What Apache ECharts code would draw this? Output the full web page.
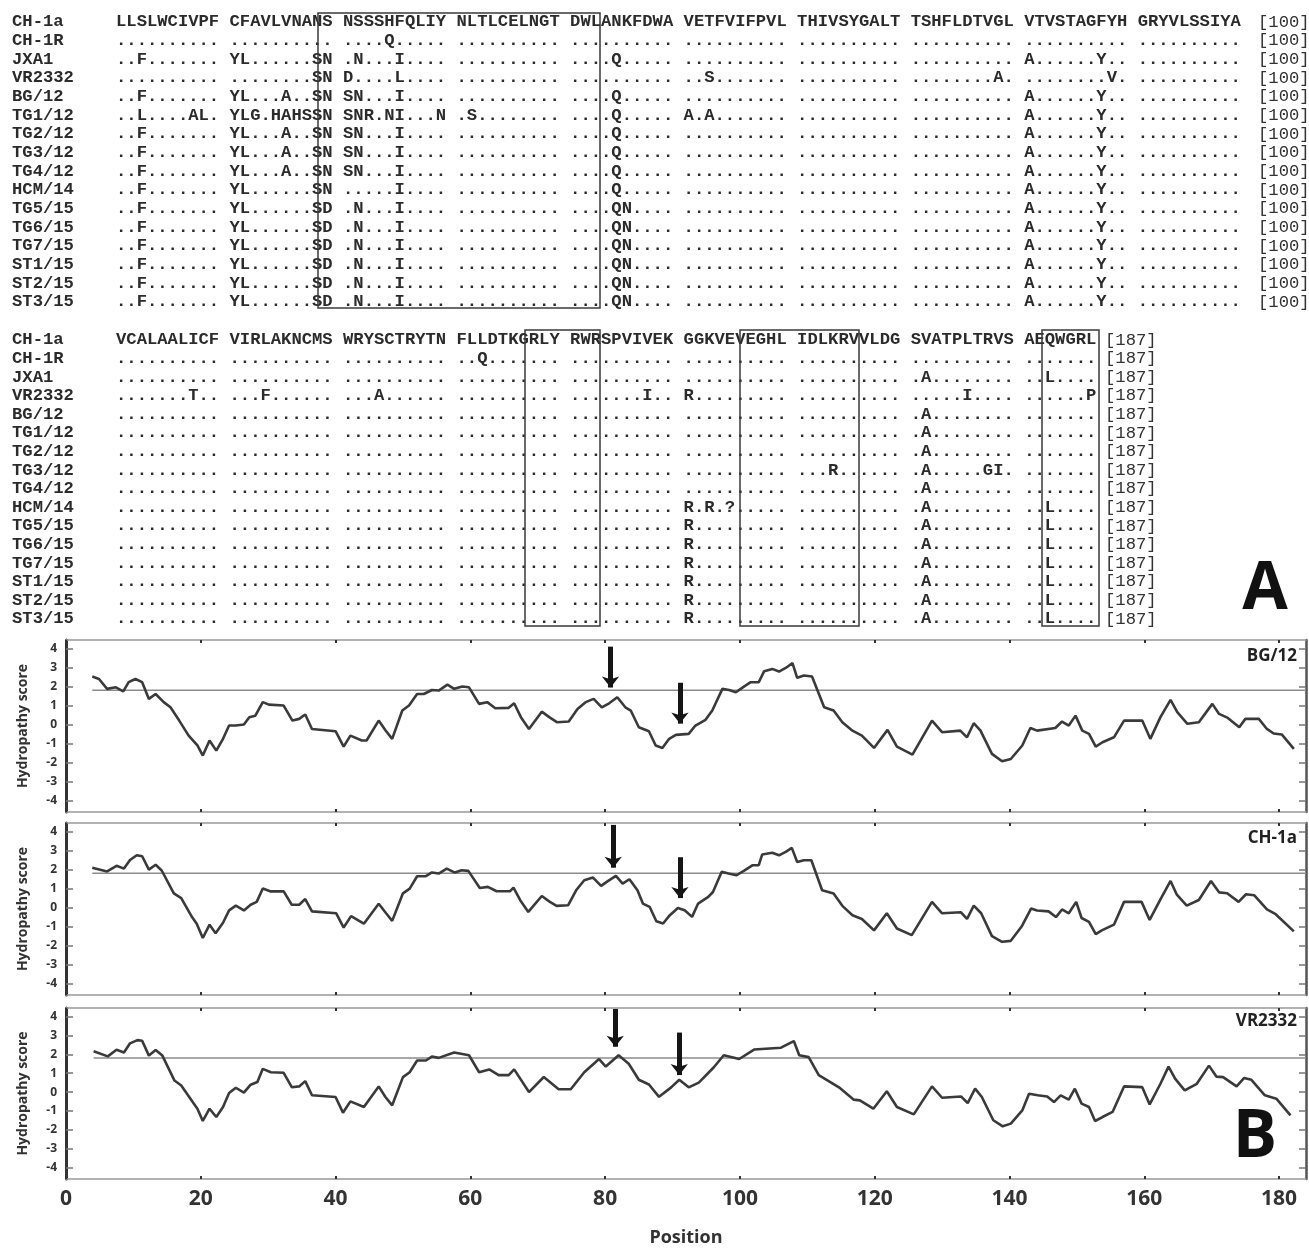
<!DOCTYPE html>
<html>
<head>
<meta charset="utf-8">
<script src="https://cdn.jsdelivr.net/npm/echarts@6/dist/echarts.min.js"></script>
<style>
  html, body { margin: 0; background: #fff; }
  #main { width: 1309px; height: 1248px; }
</style>
</head>
<body>
<div id="main"></div>
<script>
// ---- alignment (panel A) ----
const strainNames = ['CH-1a', 'CH-1R', 'JXA1', 'VR2332', 'BG/12', 'TG1/12', 'TG2/12', 'TG3/12',
  'TG4/12', 'HCM/14', 'TG5/15', 'TG6/15', 'TG7/15', 'ST1/15', 'ST2/15', 'ST3/15'];

const block1Rows = [
  'LLSLWCIVPF CFAVLVNANS NSSSHFQLIY NLTLCELNGT DWLANKFDWA VETFVIFPVL THIVSYGALT TSHFLDTVGL VTVSTAGFYH GRYVLSSIYA',
  '.......... .......... ....Q..... .......... .......... .......... .......... .......... .......... ..........',
  '..F....... YL......SN .N...I.... .......... ....Q..... .......... .......... .......... A......Y.. ..........',
  '.......... ........SN D....L.... .......... .......... ..S....... .......... ........A. ........V. ..........',
  '..F....... YL...A..SN SN...I.... .......... ....Q..... .......... .......... .......... A......Y.. ..........',
  '..L....AL. YLG.HAHSSN SNR.NI...N .S........ ....Q..... A.A....... .......... .......... A......Y.. ..........',
  '..F....... YL...A..SN SN...I.... .......... ....Q..... .......... .......... .......... A......Y.. ..........',
  '..F....... YL...A..SN SN...I.... .......... ....Q..... .......... .......... .......... A......Y.. ..........',
  '..F....... YL...A..SN SN...I.... .......... ....Q..... .......... .......... .......... A......Y.. ..........',
  '..F....... YL......SN .....I.... .......... ....Q..... .......... .......... .......... A......Y.. ..........',
  '..F....... YL......SD .N...I.... .......... ....QN.... .......... .......... .......... A......Y.. ..........',
  '..F....... YL......SD .N...I.... .......... ....QN.... .......... .......... .......... A......Y.. ..........',
  '..F....... YL......SD .N...I.... .......... ....QN.... .......... .......... .......... A......Y.. ..........',
  '..F....... YL......SD .N...I.... .......... ....QN.... .......... .......... .......... A......Y.. ..........',
  '..F....... YL......SD .N...I.... .......... ....QN.... .......... .......... .......... A......Y.. ..........',
  '..F....... YL......SD .N...I.... .......... ....QN.... .......... .......... .......... A......Y.. ..........'
];

const block2Rows = [
  'VCALAALICF VIRLAKNCMS WRYSCTRYTN FLLDTKGRLY RWRSPVIVEK GGKVEVEGHL IDLKRVVLDG SVATPLTRVS AEQWGRL',
  '.......... .......... .......... ..Q....... .......... .......... .......... .......... .......',
  '.......... .......... .......... .......... .......... .......... .......... .A........ ..L....',
  '.......T.. ...F...... ...A...... .......... .......I.. R......... .......... .....I.... ......P',
  '.......... .......... .......... .......... .......... .......... .......... .A........ .......',
  '.......... .......... .......... .......... .......... .......... .......... .A........ .......',
  '.......... .......... .......... .......... .......... .......... .......... .A........ .......',
  '.......... .......... .......... .......... .......... .......... ...R...... .A.....GI. .......',
  '.......... .......... .......... .......... .......... .......... .......... .A........ .......',
  '.......... .......... .......... .......... .......... R.R.?..... .......... .A........ ..L....',
  '.......... .......... .......... .......... .......... R......... .......... .A........ ..L....',
  '.......... .......... .......... .......... .......... R......... .......... .A........ ..L....',
  '.......... .......... .......... .......... .......... R......... .......... .A........ ..L....',
  '.......... .......... .......... .......... .......... R......... .......... .A........ ..L....',
  '.......... .......... .......... .......... .......... R......... .......... .A........ ..L....',
  '.......... .......... .......... .......... .......... R......... .......... .A........ ..L....'
];

const block1End = '[100]';
const block2End = '[187]';

// ---- hydropathy (panel B) ----
const positionTicks = [0, 20, 40, 60, 80, 100, 120, 140, 160, 180];
const scoreTicks = [-4, -3, -2, -1, 0, 1, 2, 3, 4];
const threshold = 1.8;

const bg12Score = [
  [3.9, 2.53], [4.9, 2.4], [6.1, 1.88], [7.4, 1.96], [8.5, 1.75], [9.3, 2.23], [10.3, 2.4], [11.3, 2.23],
  [12.3, 1.35], [13.3, 1.61], [14.5, 1.18], [15.5, 0.91], [16.8, 0.21], [18.2, -0.58], [19.5, -1.1],
  [20.3, -1.63], [21.3, -0.84], [22.3, -1.37], [23.3, -0.75], [24.2, -0.05], [25.2, -0.05], [26.4, 0],
  [27.2, 0.39], [28.1, 0.47], [29.2, 1.18], [30.1, 1.05], [32.3, 1.0], [33.6, 0.21], [34.6, 0.3],
  [35.5, 0.53], [36.5, -0.23], [40, -0.35], [41.2, -1.16], [42.2, -0.58], [43.9, -0.84], [44.6, -0.84],
  [46.4, 0.21], [47.4, -0.3], [48.4, -0.75], [49.9, 0.74], [50.9, 1.0], [52.1, 1.61], [53.1, 1.61],
  [54.3, 1.82], [55.3, 1.79], [56.6, 2.1], [57.6, 1.88], [58.8, 2.0], [59.8, 1.96], [61.3, 1.09],
  [62.5, 1.18], [63.7, 0.86], [65.7, 0.88], [66.5, 1.12], [67.5, 0.39], [68.7, -0.23], [70.6, 0.68],
  [71.7, 0.39], [72.9, 0.12], [74.6, 0.16], [75.9, 0.82], [77.1, 1.18], [78.3, 1.35], [79.5, 0.91],
  [80.6, 1.12], [81.8, 1.44], [83, 0.91], [83.8, 0.74], [85, -0.14], [86.5, -0.35], [87.5, -1.1],
  [88.5, -1.23], [89.5, -0.75], [90.5, -0.54], [92.4, -0.49], [93.4, -0.05], [94.9, 0.25], [95.9, 0.74],
  [97.4, 1.88], [98.4, 1.82], [99.4, 1.7], [100.6, 2.0], [101.6, 2.23], [102.8, 2.23], [103.6, 2.81],
  [104.8, 2.93], [105.8, 2.79], [106.8, 2.98], [107.8, 3.23], [108.5, 2.46], [109.5, 2.58], [110.7, 2.53],
  [112.5, 0.91], [113.9, 0.74], [115.2, 0.12], [116.7, -0.32], [118.1, -0.58], [119.9, -1.23],
  [121.9, -0.28], [123.3, -1.16], [125.6, -1.58], [128.5, 0.21], [130, -0.4], [132.7, -0.32],
  [133.7, -0.67], [134.7, 0.07], [135.7, -0.32], [137.4, -1.54], [138.9, -1.93], [140.2, -1.81],
  [141.9, -1.1], [143.1, -0.18], [144.1, -0.32], [146.8, -0.18], [147.8, 0.16], [148.8, -0.05],
  [149.8, 0.47], [150.8, -0.32], [151.8, -0.49], [152.8, -1.16], [153.8, -0.93], [155.5, -0.67],
  [157, 0.21], [159.7, 0.21], [160.9, -0.75], [162.4, 0.39], [163.9, 1.3], [164.9, 0.65], [166.4, 0.04],
  [168.1, 0.12], [170.1, 1.09], [171.1, 0.56], [172.4, 0.35], [174.1, -0.14], [175, 0.3], [177, 0.3],
  [178.2, -0.23], [179.2, -0.47], [180.4, -0.52], [182.2, -1.28]
];

const ch1aScore = [
  [3.9, 2.1], [6.1, 1.9], [7.5, 2.2], [8.6, 2.05], [9.5, 2.5], [10.5, 2.75], [11.3, 2.7], [12.3, 2.0],
  [13.3, 2.25], [14.2, 1.95], [16, 0.75], [17.1, 0.5], [18.7, -0.5], [19.4, -0.85], [20.3, -1.6],
  [21.3, -0.9], [22.2, -1.35], [23.3, -0.8], [24.2, -0.15], [25.2, 0.1], [26.4, -0.15], [27.4, 0.15],
  [28.3, 0.3], [29.2, 1.0], [30.4, 0.85], [32.3, 0.85], [33.5, 0.15], [34.6, 0.15], [35.5, 0.45],
  [36.5, -0.2], [40.1, -0.3], [41.2, -1.05], [42.3, -0.45], [44.2, -0.85], [46.4, 0.2], [47.5, -0.3],
  [48.4, -0.7], [50, 0.75], [51, 1.0], [52.1, 1.65], [53.4, 1.65], [54.3, 1.85], [55.3, 1.79],
  [56.5, 2.05], [57.7, 1.84], [58.7, 1.96], [59.7, 1.93], [61.4, 1.03], [62.6, 1.09], [63.9, 0.86],
  [65.9, 0.86], [66.4, 1.05], [67.4, 0.39], [68.6, -0.23], [70.6, 0.61], [71.8, 0.3], [72.8, 0.09],
  [74.5, 0.12], [75.7, 0.91], [76.9, 1.44], [78.2, 1.58], [79.4, 1.14], [80.4, 1.39], [81.6, 1.67],
  [82.6, 1.26], [83.6, 1.49], [84.8, 0.91], [85.6, 0.21], [86.6, 0.04], [87.6, -0.72], [88.6, -0.84],
  [89.6, -0.4], [90.8, -0.02], [91.8, -0.14], [92.9, -0.49], [93.8, 0.21], [95.3, 0.56], [96, 0.82],
  [97.3, 1.88], [98.3, 1.79], [99.5, 1.7], [100.7, 1.96], [101.9, 2.23], [102.8, 2.23], [103.3, 2.79],
  [104.8, 2.88], [105.8, 2.75], [106.8, 2.93], [107.7, 3.14], [108.5, 2.4], [109.5, 2.49], [110.6, 2.49],
  [112.2, 0.91], [113.9, 0.74], [115.2, 0.09], [116.7, -0.4], [118.1, -0.6], [119.9, -1.2],
  [121.8, -0.3], [123.3, -1.1], [125.5, -1.45], [128.5, 0.3], [130, -0.3], [132.8, -0.25], [133.7, -0.6],
  [134.7, 0.1], [135.8, -0.3], [137.4, -1.5], [138.9, -1.8], [140.2, -1.75], [141.8, -1.0],
  [143.2, -0.05], [144.1, -0.15], [145.8, -0.2], [146.9, -0.5], [147.8, -0.1], [148.8, -0.3],
  [149.9, 0.3], [150.7, -0.55], [151.8, -0.75], [152.8, -1.4], [153.7, -1.2], [155.5, -0.9], [157, 0.3],
  [159.6, 0.3], [160.8, -0.65], [162.5, 0.5], [163.9, 1.4], [164.8, 0.7], [166.3, 0.1], [168.1, 0.4],
  [169.9, 1.4], [171.1, 0.8], [172.3, 0.75], [174, 0.3], [175.1, 0.7], [176.3, 0.65], [178.2, -0.1],
  [179.5, -0.35], [182.2, -1.25]
];

const vr2332Score = [
  [4.1, 2.16], [6.2, 1.89], [7.5, 2.24], [8.6, 2.1], [9.5, 2.58], [10.6, 2.75], [11.3, 2.72], [12.3, 1.93],
  [13.3, 2.23], [14.3, 1.93], [16.1, 0.61], [17.1, 0.35], [18.8, -0.53], [19.5, -0.88], [20.3, -1.53],
  [21.3, -0.88], [22.3, -1.32], [23.3, -0.79], [24.2, -0.05], [25.2, 0.23], [26.4, -0.03], [27.4, 0.39],
  [28.4, 0.53], [29.2, 1.23], [30.4, 1.05], [32.3, 1.02], [33.5, 0.26], [34.6, 0.3], [35.5, 0.58],
  [36.5, -0.17], [40, -0.26], [41.1, -1.09], [42.2, -0.49], [44.2, -0.79], [46.4, 0.3], [47.4, -0.26],
  [48.4, -0.7], [50, 0.79], [51, 1.05], [52.1, 1.67], [53.4, 1.67], [54.3, 1.88], [55.3, 1.81],
  [57.6, 2.1], [59.8, 1.95], [61.3, 1.05], [62.8, 1.2], [64.2, 0.9], [65.7, 0.9], [66.5, 1.2], [68.7, 0],
  [70.9, 0.8], [73.1, 0.15], [74.9, 0.15], [76.9, 1.05], [79.1, 1.75], [80.1, 1.35], [82, 1.95],
  [83.5, 1.5], [85, 0.65], [86.5, 0.4], [88, -0.25], [89.8, 0.25], [91, 0.65], [92.4, 0.25], [93.9, 0.5],
  [96.1, 1.3], [97.6, 1.95], [99.9, 1.75], [102.1, 2.25], [106.1, 2.35], [108, 2.7], [108.8, 1.95],
  [110.2, 1.85], [111.7, 0.9], [114.7, 0.25], [116.9, -0.4], [117.8, -0.44], [119.8, -0.88],
  [121.8, 0.04], [123.3, -0.79], [125.8, -1.18], [128.5, 0.3], [130, -0.3], [132.8, -0.23], [133.8, -0.58],
  [134.9, 0.18], [135.9, -0.26], [137.6, -1.49], [139, -1.81], [140.2, -1.67], [141.9, -0.97],
  [142.9, -0.09], [144.2, -0.17], [145.6, -0.23], [146.6, -0.53], [147.6, -0.17], [148.8, -0.4],
  [149.7, 0.18], [150.7, -0.61], [151.8, -0.79], [152.7, -1.53], [153.8, -1.32], [155.3, -1.05],
  [157, 0.3], [159.7, 0.26], [160.8, -0.65], [162.4, 0.44], [163.6, 1.35], [164.6, 0.7], [166, 0.09],
  [167.8, 0.44], [169.6, 1.4], [170.7, 0.82], [171.7, 0.79], [173.7, 0.3], [174.8, 0.74], [175.9, 0.65],
  [177.9, -0.17], [179.6, -0.35], [181.7, -1.23]
];

const panelNames = ['BG/12', 'CH-1a', 'VR2332'];
const panelScores = [bg12Score, ch1aScore, vr2332Score];
// arrows: [position, from score, to score] per panel
const panelArrows = [
  [[80.8, 4.1, 1.95], [91.1, 2.2, 0.05]],
  [[81.2, 4.35, 2.1], [91.1, 2.65, 0.5]],
  [[81.5, 4.4, 2.4], [91.0, 3.15, 0.9]]
];

// ---- layout ----
const chart = echarts.init(document.getElementById('main'));

const monoFont = 'bold 17.2px "Liberation Mono", "DejaVu Sans Mono", monospace';
const charW = 10.32;
const seqLeft = 116;
const endX = [1258, 1105];
const graphic = [];

function addBlock(rows, endLabel, y0, step, ex) {
  rows.forEach((row, r) => {
    const y = y0 + r * step;
    graphic.push({
      type: 'text', x: 12, y: y,
      style: { text: strainNames[r], font: monoFont, fill: '#2b2b2b', verticalAlign: 'middle', textVerticalAlign: 'middle' }
    });
    row.split(' ').forEach((grp, g) => {
      graphic.push({
        type: 'text', x: seqLeft + g * 11 * charW, y: y,
        style: { text: grp, font: monoFont, fill: '#2b2b2b', verticalAlign: 'middle', textVerticalAlign: 'middle' }
      });
    });
    graphic.push({
      type: 'text', x: ex, y: y,
      style: { text: endLabel, font: '17.2px "Liberation Mono", monospace', fill: '#333', verticalAlign: 'middle', textVerticalAlign: 'middle' }
    });
  });
}
addBlock(block1Rows, block1End, 22, 18.67, endX[0]);
addBlock(block2Rows, block2End, 340, 18.6, endX[1]);

// boxed regions
const boxes = [
  [318, 13, 282, 295],
  [525, 330, 75, 296],
  [740, 330, 119, 296],
  [1042, 330, 57, 296]
];
boxes.forEach(b => graphic.push({
  type: 'rect', shape: { x: b[0], y: b[1], width: b[2], height: b[3] },
  style: { fill: 'none', stroke: '#3a3a3a', lineWidth: 1.5 }, z: 10
}));

graphic.push({
  type: 'text', x: 1265, y: 590,
  style: { text: 'A', font: 'bold 66px "Open Sans", sans-serif', fill: '#111', align: 'center', verticalAlign: 'middle', textAlign: 'center', textVerticalAlign: 'middle' }
});
graphic.push({
  type: 'text', x: 1255, y: 1138,
  style: { text: 'B', font: 'bold 66px "Open Sans", sans-serif', fill: '#111', align: 'center', verticalAlign: 'middle', textAlign: 'center', textVerticalAlign: 'middle' }
});

const gridTops = [640, 823, 1008];
const gridH = 172;
const panelLabelY = [656, 838, 1021];
panelNames.forEach((n, i) => graphic.push({
  type: 'text', x: 1297, y: panelLabelY[i],
  style: { text: n, font: 'bold 17px "Open Sans", sans-serif', fill: '#222', align: 'right', verticalAlign: 'middle', textAlign: 'right', textVerticalAlign: 'middle' },
  z: 20
}));

const grids = [], xAxes = [], yAxes = [], series = [];
gridTops.forEach((top, i) => {
  grids.push({ left: 66, top: top, width: 1240, height: gridH });
  const last = i === 2;
  xAxes.push({
    type: 'value', gridIndex: i, min: 0, max: 184, position: 'bottom',
    axisLine: { show: true, onZero: false, lineStyle: { color: '#999', width: 1.5 } },
    axisTick: { show: true, inside: true, length: 3, customValues: positionTicks, lineStyle: { color: '#333', width: 2 } },
    axisLabel: last
      ? { show: true, customValues: positionTicks, fontSize: 21, fontWeight: 'bold', fontFamily: 'Open Sans', color: '#333', margin: 10 }
      : { show: false },
    splitLine: { show: false },
    name: last ? 'Position' : '',
    nameLocation: 'middle', nameGap: 50,
    nameTextStyle: { fontSize: 18, fontWeight: 'bold', fontFamily: 'Open Sans', color: '#333' }
  });
  xAxes.push({
    type: 'value', gridIndex: i, min: 0, max: 184, position: 'top',
    axisLine: { show: true, onZero: false, lineStyle: { color: '#999', width: 1.5 } },
    axisTick: { show: true, inside: true, length: 3, customValues: positionTicks, lineStyle: { color: '#333', width: 2 } },
    axisLabel: { show: false }, splitLine: { show: false }
  });
  yAxes.push({
    type: 'value', gridIndex: i, min: -4.6, max: 4.45, position: 'left',
    axisLine: { show: true, onZero: false, lineStyle: { color: '#333', width: 3 } },
    axisTick: { show: true, inside: true, length: 7, customValues: scoreTicks, lineStyle: { color: '#777', width: 1.5 } },
    axisLabel: { customValues: scoreTicks, fontSize: 12, fontWeight: 'bold', fontFamily: 'Open Sans', color: '#333', margin: 9 },
    splitLine: { show: false },
    name: 'Hydropathy score', nameLocation: 'middle', nameGap: 36,
    nameTextStyle: { fontSize: 14, fontWeight: 'bold', fontFamily: 'Open Sans', color: '#333' }
  });
  yAxes.push({
    type: 'value', gridIndex: i, min: -4.6, max: 4.45, position: 'right',
    axisLine: { show: true, onZero: false, lineStyle: { color: '#555', width: 2.5 } },
    axisTick: { show: true, inside: true, length: 7, customValues: scoreTicks, lineStyle: { color: '#777', width: 1.5 } },
    axisLabel: { show: false }, splitLine: { show: false }
  });

  const scores = panelScores[i];
  series.push({
    type: 'line', xAxisIndex: 2 * i, yAxisIndex: 2 * i, data: scores,
    symbol: 'none', lineStyle: { color: '#3a3a3a', width: 2.6 }, z: 3
  });
  series.push({
    type: 'line', xAxisIndex: 2 * i, yAxisIndex: 2 * i,
    data: [[scores[0][0], threshold], [184, threshold]],
    symbol: 'none', lineStyle: { color: '#8c8c8c', width: 1.5 }, z: 2,
    markLine: {
      silent: true, symbol: ['none', 'arrow'], symbolSize: [13, 11],
      lineStyle: { color: '#151515', width: 5, type: 'solid' },
      label: { show: false },
      data: panelArrows[i].map(a => [{ coord: [a[0], a[1]] }, { coord: [a[0], a[2]] }])
    }
  });
});

chart.setOption({
  animation: false,
  backgroundColor: '#fff',
  grid: grids,
  xAxis: xAxes,
  yAxis: yAxes,
  series: series,
  graphic: graphic
});
</script>
</body>
</html>
